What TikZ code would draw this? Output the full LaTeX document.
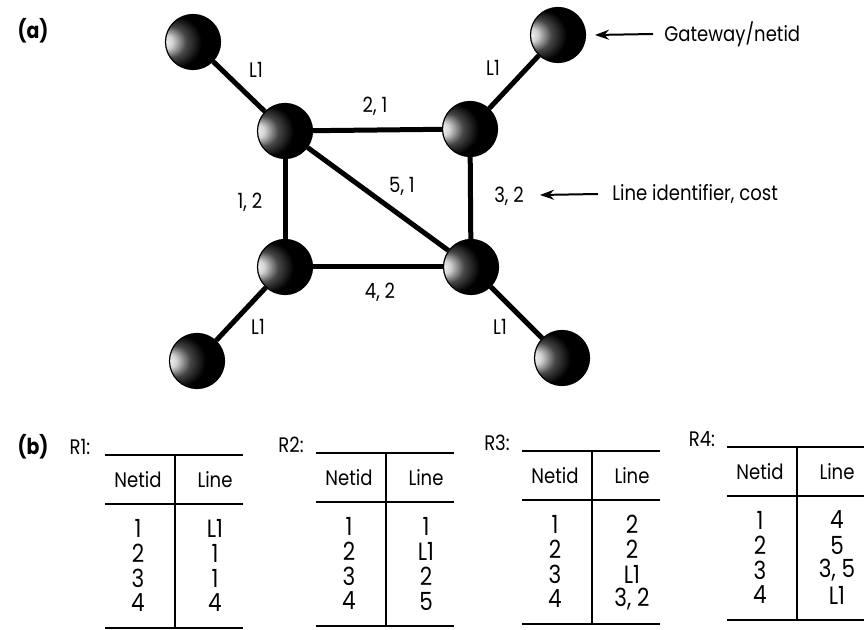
\documentclass[tikz,border=0pt]{standalone}
\usepackage{fontspec}
\setmainfont{Poppins}[FakeStretch=0.86]
\usepackage{tikz}
\usetikzlibrary{arrows.meta}
\pgfdeclareradialshading{orb}{\pgfpoint{-28bp}{0bp}}{color(0bp)=(white); color(6bp)=(gray!35); color(14bp)=(gray!55!black); color(23bp)=(black); color(50bp)=(black)}

\begin{document}
\begin{tikzpicture}[x=0.5pt,y=-0.5pt,>=Stealth,
router/.style={circle,minimum size=27.5pt,inner sep=0pt,shading=orb,draw=black,line width=0.6pt},
link/.style={line width=2.5pt},
lbl/.style={font=\fontsize{10.5}{12}\selectfont,inner sep=0pt},
entry/.style={font=\fontsize{12.5}{14}\selectfont,inner sep=0pt},
panel/.style={font=\fontsize{11}{12}\bfseries\selectfont,inner sep=0pt},
pointer/.style={-{Stealth[length=7pt,width=5pt]},line width=1pt},
rule/.style={line width=1.4pt}]
\useasboundingbox (0,0) rectangle (864,630);
% (a) gateways and routers
\node[router] (gul) at (193,42) {};
\node[router] (gur) at (558,35) {};
\node[router] (gll) at (197,361) {};
\node[router] (glr) at (562,358) {};
\node[router] (rul) at (285,131) {};
\node[router] (rur) at (470,129) {};
\node[router] (rll) at (285,267) {};
\node[router] (rlr) at (471,267) {};
\draw[link] (gul)--(rul);
\draw[link] (gur)--(rur);
\draw[link] (gll)--(rll);
\draw[link] (glr)--(rlr);
\draw[link] (rul)--(rur);
\draw[link] (rul)--(rll);
\draw[link] (rur)--(rlr);
\draw[link] (rll)--(rlr);
\draw[link] (rul)--(rlr);
\node[lbl] (l1a) at (256,70) {L1};
\node[lbl] (l1b) at (493,68) {L1};
\node[lbl] (l1c) at (258,327) {L1};
\node[lbl] (l1d) at (500,327) {L1};
\node[lbl] (c21) at (375,106) {2, 1};
\node[lbl] (c51) at (402,186) {5, 1};
\node[lbl] (c12) at (250,202) {1, 2};
\node[lbl] (c32) at (509,196) {3, 2};
\node[lbl] (c42) at (380,292) {4, 2};
\node[lbl,anchor=west,inner xsep=5.5pt] (gwtxt) at (653,34) {Gateway/netid};
\coordinate (gwtip) at (595,35);
\draw[pointer] (gwtxt.west)--(gwtip);
\node[lbl,anchor=west,inner xsep=7pt] (costtxt) at (598,194) {Line identifier, cost};
\coordinate (costtip) at (540,195);
\draw[pointer] (costtxt.west)--(costtip);
\node[panel] (pa) at (33,31) {(a)};
% (b) routing tables
\node[panel] (pb) at (33,447) {(b)};
\foreach \tx/\ty/\tn/\tl in {105/455/1/{L1,1,1,4},316/453/2/{1,L1,2,5},522/451/3/{2,2,L1,{3, 2}},727/447/4/{4,5,{3, 5},L1}}{
\node[lbl] (r\tn) at (\tx-25,\ty-8) {R\tn:};
\draw[rule] (\tx,\ty)--++(138,0);
\draw[rule] (\tx,\ty+49)--++(138,0);
\draw[rule] (\tx,\ty+173)--++(138,0);
\draw[line width=1pt] (\tx+70,\ty)--(\tx+70,\ty+173);
\node[lbl] (t\tn-h1) at (\tx+33,\ty+25) {Netid};
\node[lbl] (t\tn-h2) at (\tx+110,\ty+25) {Line};
\foreach \e [count=\i] in \tl{
\node[entry] (t\tn-n\i) at (\tx+33,\ty+48+25*\i) {\i};
\node[entry] (t\tn-l\i) at (\tx+110,\ty+48+25*\i) {\e};
}
}
\end{tikzpicture}
\end{document}
